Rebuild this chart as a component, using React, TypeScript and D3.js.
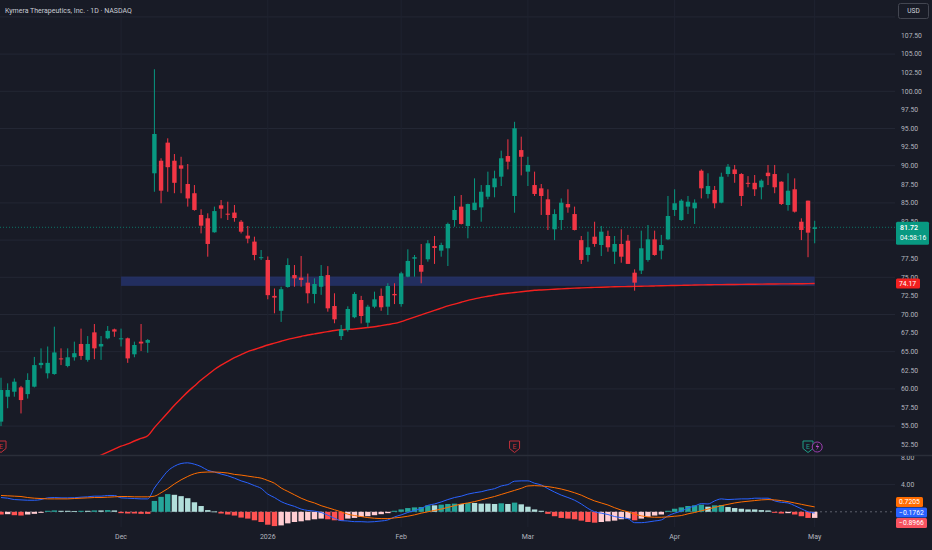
import * as d3 from "d3";

// daily bars, index 0 = first visible session (early Nov 2025), 122 = May 1 2026
const opens = [
  55.6, 58.95, 59.62, 60.2, 59.3, 60.3, 63.2, 62.1, 62.0, 64.1,
  63.08, 64.25, 66.04, 63.9, 67.6, 65.7, 66.8, 68.0, 66.67, 66.8,
  64.65, 66.35, 66.2, 88.98, 90.67, 93.1, 90.67, 90.05, 87.54, 86.3,
  83.38, 82.93, 81.05, 84.68, 83.55, 83.7, 82.47, 80.6, 79.8, 77.6,
  77.33, 72.5, 70.5, 73.7, 75.3, 74.95, 74.28, 72.76, 73.73, 75.3,
  71.14, 67.1, 67.92, 69.63, 71.95, 68.9, 71.05, 72.5, 71.05, 72.76,
  71.4, 75.08, 77.5, 76.65, 77.42, 79.2, 78.58, 78.9, 82.7, 84.5,
  81.9, 84.05, 84.4, 85.83, 87.1, 88.52, 91.3, 85.93, 92.1, 89.2,
  87.4, 86.96, 85.48, 81.45, 82.7, 84.85, 83.5, 80.0, 78.0, 80.46,
  79.34, 80.55, 78.44, 79.48, 79.92, 75.62, 75.9, 77.33, 80.1, 78.58,
  80.1, 84.05, 82.7, 84.5, 84.27, 89.33, 86.2, 86.74, 85.03, 88.88,
  89.5, 88.88, 87.7, 87.7, 87.1, 89.06, 88.88, 87.85, 84.72, 86.83,
  82.47, 85.3, 81.5,
];
const highs = [
  61.5, 60.75, 61.4, 60.4, 62.1, 64.3, 65.45, 65.7, 68.36, 65.45,
  65.45, 66.35, 68.1, 67.1, 68.72, 67.1, 68.45, 68.1, 68.1, 66.9,
  66.35, 68.72, 66.7, 102.96, 91.0, 93.68, 91.57, 91.2, 90.23, 87.4,
  84.14, 83.6, 84.5, 85.39, 85.16, 84.72, 82.7, 81.9, 80.46, 78.67,
  77.8, 73.5, 73.73, 77.55, 76.65, 77.86, 75.5, 74.86, 76.65, 76.5,
  72.85, 68.6, 71.1, 73.0, 72.5, 71.3, 73.07, 73.5, 74.2, 74.2,
  75.75, 78.76, 78.0, 79.47, 80.0, 80.55, 79.65, 82.35, 85.93, 86.06,
  84.9, 88.3, 87.4, 89.2, 89.33, 92.02, 93.55, 95.9, 93.9, 91.2,
  89.2, 87.54, 86.83, 84.14, 85.6, 86.83, 84.5, 80.55, 81.13, 82.47,
  81.9, 81.27, 80.55, 81.45, 80.7, 76.07, 81.27, 82.03, 81.27, 80.7,
  85.93, 86.83, 85.5, 85.93, 85.48, 89.5, 88.98, 87.27, 89.06, 90.23,
  90.1, 89.0, 88.6, 88.75, 88.17, 90.1, 90.1, 87.9, 88.98, 88.3,
  82.93, 85.3, 82.6,
];
const lows = [
  55.0, 57.4, 58.95, 56.7, 58.7, 60.2, 62.76, 61.4, 61.9, 63.2,
  62.9, 63.8, 63.9, 63.66, 64.0, 63.9, 66.67, 67.0, 65.7, 63.5,
  64.25, 65.1, 64.86, 86.5, 84.95, 86.5, 86.3, 86.3, 84.5, 83.95,
  80.9, 77.77, 81.0, 82.93, 82.7, 82.47, 80.9, 79.57, 77.3, 77.33,
  72.04, 70.16, 69.0, 73.6, 73.73, 73.73, 71.5, 71.5, 72.64, 70.38,
  68.82, 66.57, 67.7, 69.5, 68.8, 68.3, 70.85, 70.5, 69.93, 71.4,
  71.05, 75.0, 75.08, 74.2, 77.1, 76.8, 77.77, 76.52, 81.8, 82.1,
  80.24, 84.0, 82.47, 85.48, 85.75, 87.27, 89.5, 83.68, 88.7, 87.27,
  85.93, 83.38, 81.36, 80.0, 81.36, 83.68, 81.3, 76.8, 77.1, 79.1,
  77.86, 78.44, 76.8, 76.96, 76.8, 73.2, 75.44, 77.1, 77.9, 77.42,
  80.0, 83.24, 82.6, 83.5, 82.17, 85.6, 85.6, 84.27, 84.95, 88.52,
  87.7, 84.58, 87.1, 85.93, 85.48, 87.4, 86.3, 84.72, 83.95, 83.7,
  80.0, 77.7, 79.57,
];
const closes = [
  59.85, 59.85, 60.97, 58.5, 61.2, 63.2, 63.5, 63.5, 64.9, 64.0,
  64.25, 64.8, 64.43, 66.04, 65.45, 66.04, 67.8, 67.7, 66.8, 64.1,
  65.9, 66.1, 66.57, 94.26, 86.64, 89.8, 87.7, 89.6, 85.6, 84.05,
  81.94, 79.48, 83.9, 84.22, 83.45, 82.97, 81.13, 80.2, 78.0, 77.7,
  72.6, 72.27, 73.4, 76.65, 74.86, 74.64, 72.85, 74.1, 75.18, 70.83,
  69.35, 68.0, 70.74, 72.76, 69.8, 71.05, 72.04, 70.97, 73.83, 72.58,
  75.53, 77.2, 77.7, 75.75, 79.57, 78.94, 79.34, 82.17, 84.05, 82.17,
  84.85, 85.03, 86.5, 87.4, 88.3, 91.0, 90.54, 95.03, 91.2, 90.1,
  86.2, 85.93, 83.38, 83.5, 85.03, 84.4, 81.36, 77.33, 79.03, 79.48,
  81.13, 79.03, 79.48, 77.77, 76.8, 74.28, 78.9, 80.1, 78.0, 79.34,
  83.24, 84.95, 85.3, 85.16, 85.03, 86.96, 87.27, 84.95, 88.52, 89.87,
  88.88, 85.93, 87.6, 86.83, 87.99, 88.6, 87.1, 84.85, 86.64, 83.82,
  81.36, 81.0, 81.72,
];

// long moving average, first value belongs to bar 13
const maStart = 13;
const maValues = [
  50.3, 50.7, 51.1, 51.5, 51.9, 52.3, 52.6, 53.0, 53.35, 53.7,
  54.8, 55.8, 56.8, 57.8, 58.7, 59.6, 60.4, 61.2, 61.9, 62.6,
  63.2, 63.7, 64.2, 64.6, 65.0, 65.3, 65.6, 65.9, 66.15, 66.4,
  66.65, 66.85, 67.05, 67.25, 67.4, 67.55, 67.7, 67.85, 67.95, 68.0,
  68.05, 68.15, 68.25, 68.35, 68.5, 68.65, 68.8, 69.05, 69.35, 69.65,
  69.95, 70.25, 70.55, 70.85, 71.15, 71.4, 71.65, 71.9, 72.1, 72.3,
  72.45, 72.6, 72.75, 72.85, 72.95, 73.05, 73.15, 73.25, 73.3, 73.35,
  73.4, 73.45, 73.5, 73.55, 73.58, 73.61, 73.64, 73.67, 73.7, 73.72,
  73.74, 73.76, 73.78, 73.8, 73.82, 73.84, 73.86, 73.88, 73.9, 73.92,
  73.94, 73.96, 73.98, 74.0, 74.01, 74.02, 74.03, 74.04, 74.05, 74.06,
  74.07, 74.08, 74.09, 74.1, 74.11, 74.12, 74.13, 74.14, 74.15, 74.17,
];

const macdValues = [
  2.1, 2.0, 1.8, 1.75, 1.7, 1.7, 1.8, 2.05, 2.1, 2.05,
  2.05, 2.07, 2.15, 2.2, 2.3, 2.3, 2.4, 2.4, 2.05, 2.0,
  1.95, 1.9, 1.9, 3.5, 4.8, 6.0, 6.7, 7.1, 7.2, 7.0,
  6.65, 6.1, 5.85, 5.55, 5.3, 4.95, 4.55, 4.25, 3.85, 3.45,
  2.6, 2.1, 1.5, 1.1, 0.8, 0.4, 0.2, 0.1, -0.1, -0.5,
  -0.95, -1.3, -1.35, -1.45, -1.45, -1.5, -1.45, -1.35, -1.2, -0.75,
  -0.45, -0.1, 0.2, 0.5, 0.95, 1.15, 1.45, 1.8, 2.1, 2.3,
  2.6, 2.8, 2.95, 3.2, 3.4, 3.8, 4.0, 4.5, 4.55, 4.55,
  4.2, 3.95, 3.4, 2.9, 2.45, 2.1, 1.7, 1.15, 0.5, 0.0,
  -0.2, -0.4, -0.7, -0.85, -1.0, -1.6, -1.6, -1.5, -1.35, -1.2,
  -0.6, -0.2, 0.1, 0.55, 0.85, 1.2, 1.15, 1.6, 1.9, 1.8,
  1.85, 1.9, 1.9, 2.0, 2.0, 2.0, 1.6, 1.4, 1.3, 0.9,
  0.45, 0.0, -0.1762,
];
const signalValues = [
  2.4, 2.35, 2.3, 2.25, 2.1, 2.0, 1.95, 1.9, 1.9, 1.9,
  1.9, 1.95, 2.0, 2.05, 2.1, 2.1, 2.15, 2.2, 2.25, 2.25,
  2.2, 2.2, 2.2, 2.3, 2.8, 3.4, 4.1, 4.7, 5.2, 5.6,
  5.8, 5.85, 5.85, 5.8, 5.7, 5.5, 5.4, 5.25, 5.1, 4.95,
  4.6, 4.2, 3.5, 3.0, 2.5, 2.0, 1.6, 1.3, 0.9, 0.6,
  0.3, 0.0, -0.35, -0.55, -0.7, -0.85, -0.95, -1.0, -1.0, -0.9,
  -0.8, -0.65, -0.45, -0.2, 0.0, 0.2, 0.4, 0.65, 0.9, 1.15,
  1.3, 1.5, 1.75, 2.0, 2.25, 2.55, 2.85, 3.15, 3.45, 3.8,
  3.85, 3.8, 3.7, 3.55, 3.35, 3.1, 2.8, 2.45, 2.0, 1.6,
  1.3, 1.0, 0.6, 0.25, 0.0, -0.35, -0.6, -0.75, -0.8, -0.8,
  -0.75, -0.65, -0.55, -0.3, -0.1, 0.15, 0.4, 0.65, 0.9, 1.1,
  1.3, 1.45, 1.55, 1.65, 1.75, 1.8, 1.75, 1.65, 1.5, 1.3,
  1.1, 0.9, 0.7205,
];
const histValues = [
  -0.4, -0.35, -0.5, -0.55, -0.4, -0.3, -0.15, 0.15, 0.2, 0.15,
  0.15, 0.12, 0.15, 0.15, 0.2, 0.2, 0.25, 0.2, -0.2, -0.25,
  -0.25, -0.3, -0.3, 1.6, 2.2, 2.6, 2.5, 2.3, 2.0, 1.4,
  0.85, 0.25, 0.05, -0.25, -0.4, -0.55, -0.85, -1.0, -1.25, -1.5,
  -1.9, -2.1, -2.0, -1.7, -1.5, -1.4, -1.25, -1.1, -1.0, -1.1,
  -1.25, -1.3, -1.0, -0.9, -0.75, -0.65, -0.5, -0.35, -0.2, 0.15,
  0.35, 0.55, 0.65, 0.7, 0.95, 0.95, 1.05, 1.15, 1.2, 1.15,
  1.3, 1.3, 1.2, 1.2, 1.15, 1.25, 1.15, 1.35, 1.1, 0.75,
  0.35, 0.15, -0.3, -0.65, -0.9, -1.0, -1.1, -1.3, -1.5, -1.6,
  -1.5, -1.4, -1.3, -1.1, -1.0, -1.25, -1.0, -0.75, -0.55, -0.4,
  0.15, 0.45, 0.65, 0.85, 0.95, 1.05, 0.75, 0.95, 1.0, 0.7,
  0.55, 0.45, 0.35, 0.35, 0.25, 0.2, -0.15, -0.25, -0.2, -0.4,
  -0.65, -0.9, -0.8966,
];

const monthTicks = [
  { index: 18, label: "Dec" },
  { index: 40, label: "2026" },
  { index: 60, label: "Feb" },
  { index: 79, label: "Mar" },
  { index: 101, label: "Apr" },
  { index: 122, label: "May" },
];
const priceTicks = [
  107.5, 105, 102.5, 100, 97.5, 95, 92.5, 90, 87.5, 85, 82.5, 80, 77.5, 75,
  72.5, 70, 67.5, 65, 62.5, 60, 57.5, 55, 52.5,
];
const gridPrices = [110, 105, 100, 95, 90, 85, 80, 75, 70, 65, 60, 55];
const macdTicks = [8, 4];
const zoneLow = 73.85;
const zoneHigh = 75.1;
const zoneStart = 18;
const earnings = [
  { index: 0, color: "#c2303a" },
  { index: 77, color: "#c2303a" },
  { index: 121, color: "#1f9e86" },
];
const dividendIndex = 122;

const UP = "#089981";
const DOWN = "#F23645";
const MA_RED = "#F2201F";
const BG = "#181b26";
const GRID = "#232734";
const TEXT = "#b2b5be";
const FONT = "Roboto, 'Noto Sans', sans-serif";

export default function App() {
  const W = 932;
  const H = 550;
  const plotRight = 895;
  const mainBottom = 455;
  const macdTop = 456;
  const macdBottom = 527;

  const x = d3.scaleLinear().domain([0, 122]).range([1, 814.7]);
  const y = d3.scaleLinear().domain([52.5, 107.5]).range([444.7, 35.5]);
  const ym = d3.scaleLinear().domain([0, 4]).range([511.8, 484.6]);
  const bodyW = 4.4;
  const last = closes.length - 1;

  const maLine = d3
    .line<number>()
    .x((_, i) => x(i + maStart))
    .y((d) => y(d))
    .curve(d3.curveMonotoneX);
  const macdLine = d3
    .line<number>()
    .x((_, i) => x(i))
    .y((d) => ym(d))
    .curve(d3.curveMonotoneX);

  const histColor = (i: number) => {
    const h = histValues[i];
    const prev = i > 0 ? histValues[i - 1] : h;
    if (h >= 0) return prev < h ? "#26A69A" : "#B2DFDB";
    return prev < h ? "#FFCDD2" : "#FF5252";
  };

  // right-side indicator labels, stacked so they do not overlap
  const macdLabels = [
    { v: signalValues[last], color: "#FF6D00" },
    { v: macdValues[last], color: "#2962FF" },
    { v: histValues[last], color: "#F7525F" },
  ].sort((a, b) => b.v - a.v);
  const labelH = 10.5;
  const meanY = d3.mean(macdLabels, (d) => ym(d.v)) as number;
  const fmt = (v: number) => (v < 0 ? "\u2212" + Math.abs(v).toFixed(4) : v.toFixed(4));

  const lastY = y(closes[last]);
  const maY = y(maValues[maValues.length - 1]);

  return (
    <svg
      width={W}
      height={H}
      style={{ position: "absolute", left: 0, top: 0, display: "block" }}
      fontFamily={FONT}
    >
      <defs>
        <clipPath id="mainClip">
          <rect x={0} y={0} width={plotRight} height={mainBottom} />
        </clipPath>
        <clipPath id="macdClip">
          <rect x={0} y={macdTop} width={plotRight} height={macdBottom - macdTop} />
        </clipPath>
        <clipPath id="macdAxisClip">
          <rect x={plotRight} y={macdTop} width={W - plotRight} height={macdBottom - macdTop} />
        </clipPath>
      </defs>
      <rect width={W} height={H} fill={BG} />

      {/* grid */}
      <g clipPath="url(#mainClip)">
        {gridPrices.map((p) => (
          <line key={p} x1={0} x2={plotRight} y1={y(p)} y2={y(p)} stroke={GRID} />
        ))}
      </g>
      {monthTicks.map((t) => (
        <g key={t.label}>
          <line x1={x(t.index)} x2={x(t.index)} y1={0} y2={mainBottom} stroke="#1f2330" />
          <line x1={x(t.index)} x2={x(t.index)} y1={macdTop} y2={macdBottom} stroke="#1f2330" />
        </g>
      ))}
      <line x1={0} x2={plotRight} y1={ym(4)} y2={ym(4)} stroke={GRID} />

      {/* support zone */}
      <rect
        x={x(zoneStart)}
        y={y(zoneHigh)}
        width={x(last) - x(zoneStart)}
        height={y(zoneLow) - y(zoneHigh)}
        fill="#26336e"
        opacity={0.8}
      />

      <g clipPath="url(#mainClip)">
        <path d={maLine(maValues) ?? ""} fill="none" stroke={MA_RED} strokeWidth={1.4} />

        {/* last price line */}
        <line
          x1={0}
          x2={plotRight}
          y1={lastY}
          y2={lastY}
          stroke={UP}
          strokeOpacity={0.7}
          strokeDasharray="1,2"
        />

        {closes.map((c, i) => {
          const o = opens[i];
          const up = c >= o;
          const col = up ? UP : DOWN;
          const top = y(Math.max(o, c));
          const bot = y(Math.min(o, c));
          return (
            <g key={i}>
              <line x1={x(i)} x2={x(i)} y1={y(highs[i])} y2={y(lows[i])} stroke={col} strokeWidth={1} />
              <rect
                x={x(i) - bodyW / 2}
                y={top}
                width={bodyW}
                height={Math.max(1, bot - top)}
                fill={col}
              />
            </g>
          );
        })}

        {/* earnings / dividend badges */}
        {earnings.map((e, i) => {
          const cx = x(e.index);
          const cy = 447;
          return (
            <g key={i}>
              <path
                d={`M${cx - 5},${cy - 6} h10 v7.5 l-5,4 l-5,-4 z`}
                fill={BG}
                stroke={e.color}
                strokeWidth={1}
              />
              <text x={cx} y={cy + 1.5} fontSize={7} textAnchor="middle" fill={e.color}>
                E
              </text>
            </g>
          );
        })}
        <g>
          <circle cx={x(dividendIndex) + 2.5} cy={447} r={5} fill={BG} stroke="#9c3fb0" strokeWidth={1} />
          <path
            d={`M${x(dividendIndex) + 3.5},${443} l-2.5,4 h2 l-1.5,3.5 l3,-4.5 h-2 z`}
            fill="#c04fd0"
          />
        </g>
      </g>

      {/* pane divider */}
      <line x1={0} x2={W} y1={mainBottom + 0.5} y2={mainBottom + 0.5} stroke="#2a2e39" strokeWidth={1.5} />

      {/* MACD pane */}
      <g clipPath="url(#macdClip)">
        <line
          x1={0}
          x2={plotRight}
          y1={ym(0)}
          y2={ym(0)}
          stroke="#5d606b"
          strokeDasharray="2,3"
        />
        {histValues.map((h, i) => (
          <rect
            key={i}
            x={x(i) - 2.7}
            y={Math.min(ym(0), ym(h))}
            width={5.4}
            height={Math.max(0.8, Math.abs(ym(h) - ym(0)))}
            fill={histColor(i)}
          />
        ))}
        <path d={macdLine(macdValues) ?? ""} fill="none" stroke="#2962FF" strokeWidth={1} />
        <path d={macdLine(signalValues) ?? ""} fill="none" stroke="#FF6D00" strokeWidth={1} />
      </g>

      {/* price axis */}
      {priceTicks.map((p) => (
        <text key={p} x={901} y={y(p)} dy="0.35em" fontSize={6.8} fill={TEXT}>
          {p.toFixed(2)}
        </text>
      ))}
      <g clipPath="url(#macdAxisClip)">
        {macdTicks.map((v) => (
          <text key={v} x={901} y={ym(v)} dy="0.35em" fontSize={6.8} fill={TEXT}>
            {v.toFixed(2)}
          </text>
        ))}
      </g>

      {/* last price label */}
      <rect x={896} y={lastY - 5.5} width={33} height={23} rx={1.5} fill={UP} />
      <text x={900} y={lastY} dy="0.35em" fontSize={7} fontWeight={600} fill="#ffffff">
        {closes[last].toFixed(2)}
      </text>
      <text x={900} y={lastY + 10.5} dy="0.35em" fontSize={6.8} fill="#ffffff">
        04:58:16
      </text>

      {/* moving average label */}
      <rect x={896} y={maY - 5} width={24} height={10} rx={1.5} fill={MA_RED} />
      <text x={899} y={maY} dy="0.35em" fontSize={6.8} fill="#ffffff">
        {maValues[maValues.length - 1].toFixed(2)}
      </text>

      {macdLabels.map((d, i) => {
        const cy = meanY + (i - 1) * labelH;
        const label = fmt(d.v);
        const w = d.v < 0 ? 31 : 27;
        return (
          <g key={i}>
            <rect x={896} y={cy - 5} width={w} height={10} rx={1.5} fill={d.color} />
            <text x={899} y={cy} dy="0.35em" fontSize={6.8} fill="#ffffff">
              {label}
            </text>
          </g>
        );
      })}

      {/* currency button */}
      <rect x={898.5} y={3.5} width={30} height={15} rx={2} fill="none" stroke="#434651" />
      <text x={913.5} y={11} dy="0.35em" fontSize={6.5} textAnchor="middle" fill="#d1d4dc">
        USD
      </text>

      {/* time axis */}
      {monthTicks.map((t) => (
        <text
          key={t.label}
          x={x(t.index)}
          y={537}
          dy="0.35em"
          fontSize={7}
          textAnchor="middle"
          fill={TEXT}
        >
          {t.label}
        </text>
      ))}

      {/* title */}
      <text x={5} y={10.5} dy="0.35em" fontSize={7} fill="#c9ccd4">
        Kymera Therapeutics, Inc. · 1D · NASDAQ
      </text>
    </svg>
  );
}
